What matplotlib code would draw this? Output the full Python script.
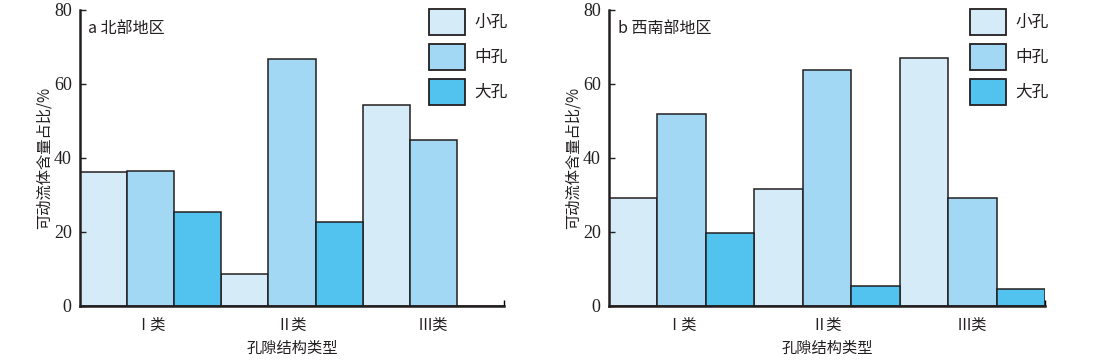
import numpy as np
import matplotlib.pyplot as plt
from matplotlib.ticker import FixedLocator

plt.rcParams['font.family'] = ['Noto Sans CJK SC', 'DejaVu Sans']

# data
categories = ['Ⅰ类', 'Ⅱ类', 'Ⅲ类']
pore_sizes = ['小孔', '中孔', '大孔']
colors = ['#D5EBF8', '#A3D8F4', '#52C2EF']
yticks = [0, 20, 40, 60, 80]

north_small = [36.3, 8.7, 54.4]
north_medium = [36.6, 66.7, 45.0]
north_large = [25.5, 22.8, 0.0]

southwest_small = [29.3, 31.5, 66.9]
southwest_medium = [51.8, 63.7, 29.3]
southwest_large = [19.6, 5.4, 4.7]

panels = [
    ('a 北部地区', [north_small, north_medium, north_large]),
    ('b 西南部地区', [southwest_small, southwest_medium, southwest_large]),
]

text_color = '#231F20'
fig = plt.figure(figsize=(11.1, 3.64), dpi=100)
W, H = 1110, 364
rects = [(80, 10, 424, 296), (609, 10, 436, 296)]

for (title, series), (x0, y0, w, h) in zip(panels, rects):
    ax = fig.add_axes([x0 / W, 1 - (y0 + h) / H, w / W, h / H])
    x = np.arange(len(categories))
    bw = 1 / 3
    for k, (vals, c, lab) in enumerate(zip(series, colors, pore_sizes)):
        ax.bar(x + (k - 1) * bw, vals, width=bw, color=c, edgecolor=text_color,
               linewidth=1.1, label=lab)
    ax.set_xlim(-0.5, 2.5)
    ax.set_ylim(0, 80)
    ax.set_yticks(yticks)
    ax.set_yticklabels([str(v) for v in yticks], fontfamily='Liberation Serif',
                       fontsize=13, color=text_color)
    ax.set_xticks(x)
    ax.set_xticklabels(categories, fontsize=11, color=text_color)
    ax.tick_params(axis='x', length=0, pad=8)
    ax.tick_params(axis='y', direction='in', length=4, width=1, colors=text_color,
                   pad=6)
    ax.xaxis.set_minor_locator(FixedLocator([2.5]))
    ax.tick_params(axis='x', which='minor', direction='in', length=4, width=1)
    for s in ['top', 'right']:
        ax.spines[s].set_visible(False)
    for s in ['left', 'bottom']:
        ax.spines[s].set_linewidth(1.8)
        ax.spines[s].set_color(text_color)
    ax.set_ylabel('可动流体含量占比/%', fontsize=11, color=text_color, labelpad=1)
    ax.set_xlabel('孔隙结构类型', fontsize=11, color=text_color, labelpad=4)
    ax.text(0.02, 0.965, title, transform=ax.transAxes, fontsize=11.5,
            color=text_color, va='top', ha='left')
    leg = ax.legend(loc='upper right', bbox_to_anchor=(1.043, 1.055), frameon=False,
                    fontsize=12, handlelength=2.15, handleheight=2.02,
                    labelspacing=0.54, handletextpad=0.55, labelcolor=text_color)
    for p in leg.get_patches():
        p.set_linewidth(1.3)

fig.savefig('out.png', dpi=100)
